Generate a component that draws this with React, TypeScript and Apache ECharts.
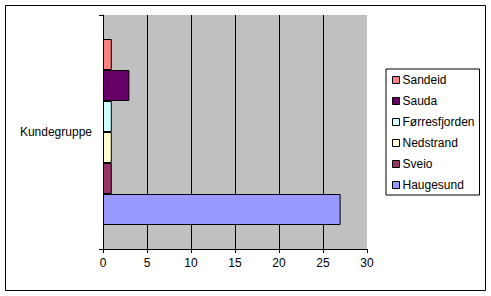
import React, { useEffect, useRef } from "react";
import * as echarts from "echarts";

const categories = ["Kundegruppe"];
const seriesNames = ["Sandeid", "Sauda", "Førresfjorden", "Nedstrand", "Sveio", "Haugesund"];
const seriesValues = [1, 3, 1, 1, 1, 27];
const seriesColors = ["#FF8080", "#660066", "#CCFFFF", "#FFFFCC", "#993366", "#9999FF"];
const xTicks = { min: 0, max: 30, interval: 5 };

export default function App() {
  const ref = useRef<HTMLDivElement>(null);
  useEffect(() => {
    document.body.style.margin = "0";
    const chart = echarts.init(ref.current!, null, { renderer: "svg" });
    const font = "Arial, 'Liberation Sans', sans-serif";
    chart.setOption({
      animation: false,
      backgroundColor: "#FFFFFF",
      graphic: [
        {
          type: "rect",
          shape: { x: 5.5, y: 5.5, width: 480, height: 285 },
          style: { fill: "none", stroke: "#000", lineWidth: 1 },
          z: 100,
        },
      ],
      grid: {
        left: 103,
        top: 15,
        right: 124,
        bottom: 47,
        show: true,
        backgroundColor: "#C0C0C0",
        borderWidth: 0,
      },
      legend: {
        orient: "vertical",
        left: 386,
        top: 69,
        data: seriesNames,
        backgroundColor: "#FFFFFF",
        borderColor: "#000",
        borderWidth: 1,
        borderRadius: 0,
        padding: [4, 5, 3, 6],
        itemWidth: 7,
        itemHeight: 7,
        itemGap: 7,
        icon: "rect",
        itemStyle: { borderColor: "#000", borderWidth: 1 },
        textStyle: { fontFamily: font, fontSize: 12, color: "#000", lineHeight: 14, padding: [0, 0, 0, -2] },
      },
      xAxis: {
        type: "value",
        min: xTicks.min,
        max: xTicks.max,
        interval: xTicks.interval,
        axisLine: { show: true, lineStyle: { color: "#000", width: 1 } },
        axisTick: { show: true, length: 4, lineStyle: { color: "#000" } },
        axisLabel: { fontFamily: font, fontSize: 12, color: "#000", margin: 8 },
        splitLine: { show: true, showMaxLine: false, showMinLine: false, lineStyle: { color: "#000", width: 1 } },
      },
      yAxis: {
        type: "category",
        data: categories,
        axisLine: { show: true, lineStyle: { color: "#000", width: 1 } },
        axisTick: { show: true, length: 4, lineStyle: { color: "#000" } },
        axisLabel: { fontFamily: font, fontSize: 12, color: "#000", margin: 11 },
      },
      series: seriesNames.map((name, i) => ({
        name,
        type: "bar",
        data: [seriesValues[i]],
        barWidth: 31,
        barGap: "0%",
        itemStyle: { color: seriesColors[i], borderColor: "#000", borderWidth: 1 },
      })),
    });
    return () => chart.dispose();
  }, []);
  return <div ref={ref} style={{ width: 491, height: 296 }} />;
}
